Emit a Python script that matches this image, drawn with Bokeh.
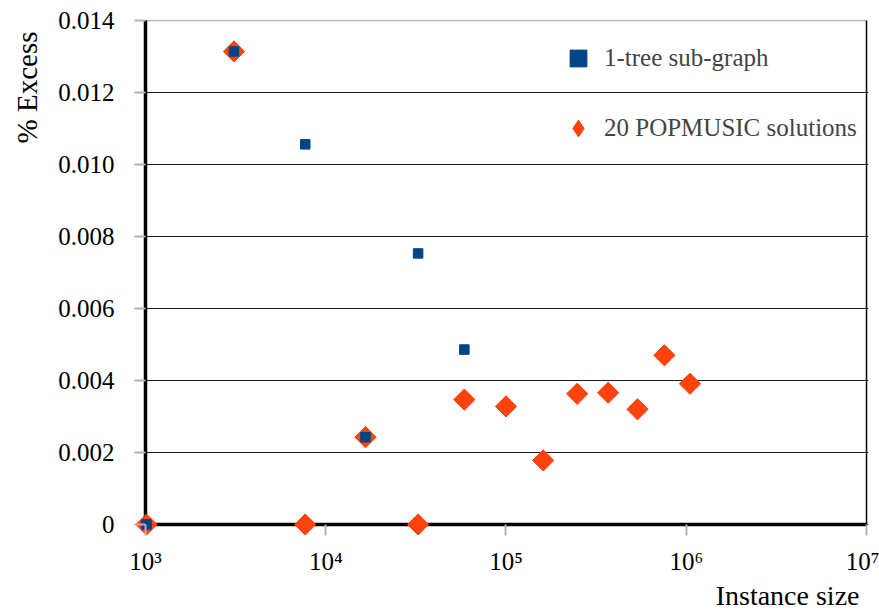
import math
from bokeh.plotting import figure
from bokeh.models import (FixedTicker, Legend, LegendItem, Range1d, Title)
from bokeh.embed import file_html
from bokeh.resources import INLINE

# ---- data ----
tree_sizes = [1013, 3097, 7697, 16616, 32545, 58750]
tree_excess = [0.0, 0.01314, 0.01056, 0.002425, 0.00753, 0.00486]

pop_sizes = [1013, 3097, 7697, 16616, 32545, 58750, 100000, 160900,
             248300, 368800, 536500, 756800, 1049000]
pop_excess = [0.0, 0.01314, 0.0, 0.002425, 0.0, 0.00347, 0.00328, 0.00178,
              0.00363, 0.00366, 0.00320, 0.00470, 0.00391]

x_ticks = [1e3, 1e4, 1e5, 1e6, 1e7]
x_tick_labels = ["10³", "10⁴", "10⁵", "10⁶", "10⁷"]
y_ticks = [0.0, 0.002, 0.004, 0.006, 0.008, 0.010, 0.012, 0.014]
y_tick_labels = ["0", "0.002", "0.004", "0.006", "0.008", "0.010", "0.012", "0.014"]

series_names = ["1-tree sub-graph", "20 POPMUSIC solutions"]
x_title = "Instance size"
y_title = "% Excess"

BLUE = "#004586"
ORANGE = "#ff420e"
FONT = "Liberation Serif"

# ---- layout ----
px_per_decade = 180.5
px_per_unit_y = 72 / 0.002
pad = 11
x_start = 10 ** (math.log10(x_ticks[0]) - pad / px_per_decade)
x_end = 10 ** (math.log10(x_ticks[-1]) + 2 / px_per_decade)
y_start = y_ticks[0] - pad / px_per_unit_y
y_end = y_ticks[-1] + 1 / px_per_unit_y

p = figure(width=879, height=610, x_axis_type="log",
           x_range=Range1d(x_start, x_end), y_range=Range1d(y_start, y_end),
           output_backend="svg", toolbar_location=None,
           min_border_left=133, min_border_right=11, min_border_top=19,
           min_border_bottom=75)
p.outline_line_color = None
p.background_fill_color = "white"

# grid (inner lines dark, top frame line light grey)
p.xgrid.visible = False
p.ygrid.ticker = FixedTicker(ticks=y_ticks[:-1])
p.ygrid.grid_line_color = "#1e1e1e"
p.ygrid.grid_line_width = 1

# axes (labels + grey ticks; the thick axis lines are drawn at 0 / 10^3 below)
for ax in (p.xaxis[0], p.yaxis[0]):
    ax.axis_line_color = None
    ax.major_tick_line_color = "#b3b3b3"
    ax.major_tick_line_width = 2
    ax.major_tick_out = 0
    ax.minor_tick_line_color = None
    ax.major_label_text_font = FONT
    ax.major_label_text_font_size = "25px"
    ax.major_label_text_color = "black"

xa = p.xaxis[0]
xa.ticker = FixedTicker(ticks=x_ticks, minor_ticks=[])
xa.major_label_overrides = {t: l for t, l in zip(x_ticks, x_tick_labels)}
xa.major_label_standoff = 12
xa.major_tick_in = pad

ya = p.yaxis[0]
ya.ticker = FixedTicker(ticks=y_ticks, minor_ticks=[])
ya.major_label_overrides = {t: l for t, l in zip(y_ticks, y_tick_labels)}
ya.major_label_standoff = 20
ya.major_tick_in = pad

# frame lines: light top line, thin right border, thick axis lines at 0 / 10^3
p.segment(x0=[x_ticks[0]], y0=[y_ticks[-1]], x1=[x_ticks[-1]], y1=[y_ticks[-1]],
          line_color="#b3b3b3", line_width=1.5)
p.segment(x0=[x_ticks[-1]], y0=[y_ticks[0]], x1=[x_ticks[-1]], y1=[y_ticks[-1]],
          line_color="black", line_width=1.5)
p.segment(x0=[x_ticks[0], x_ticks[0]], y0=[y_ticks[0], y_ticks[0]],
          x1=[x_ticks[-1], x_ticks[0]], y1=[y_ticks[0], y_ticks[-1]],
          line_color="black", line_width=3.5)

# data: diamond key renderer sits fully hidden beneath the rotated squares
r_pop_key = p.scatter(pop_sizes, pop_excess, marker="diamond", size=19,
                      fill_color=ORANGE, line_color=ORANGE)
r_pop = p.scatter(pop_sizes, pop_excess, marker="square", angle=math.pi / 4,
                  size=15, fill_color=ORANGE, line_color=ORANGE)
r_tree = p.scatter(tree_sizes, tree_excess, marker="square", size=9.5,
                   fill_color=BLUE, line_color=BLUE)

legend = Legend(items=[LegendItem(label=series_names[0], renderers=[r_tree]),
                       LegendItem(label=series_names[1], renderers=[r_pop_key])],
                location=(423, 386), padding=0, margin=0,
                glyph_width=42, glyph_height=42, label_height=42,
                spacing=28, label_standoff=5,
                label_text_font=FONT, label_text_font_size="25px",
                border_line_alpha=0, background_fill_alpha=0)
p.add_layout(legend, "center")

# axis titles
p.add_layout(Title(text=x_title, align="right", text_font=FONT,
                   text_font_size="28px", text_font_style="normal",
                   text_color="black", standoff=0, offset=9), "below")
p.add_layout(Title(text=y_title, align="right", text_font=FONT,
                   text_font_size="29px", text_font_style="normal",
                   text_color="black", standoff=21, vertical_align="top",
                   offset=12), "left")

open("out.html", "w").write(file_html(p, INLINE))
